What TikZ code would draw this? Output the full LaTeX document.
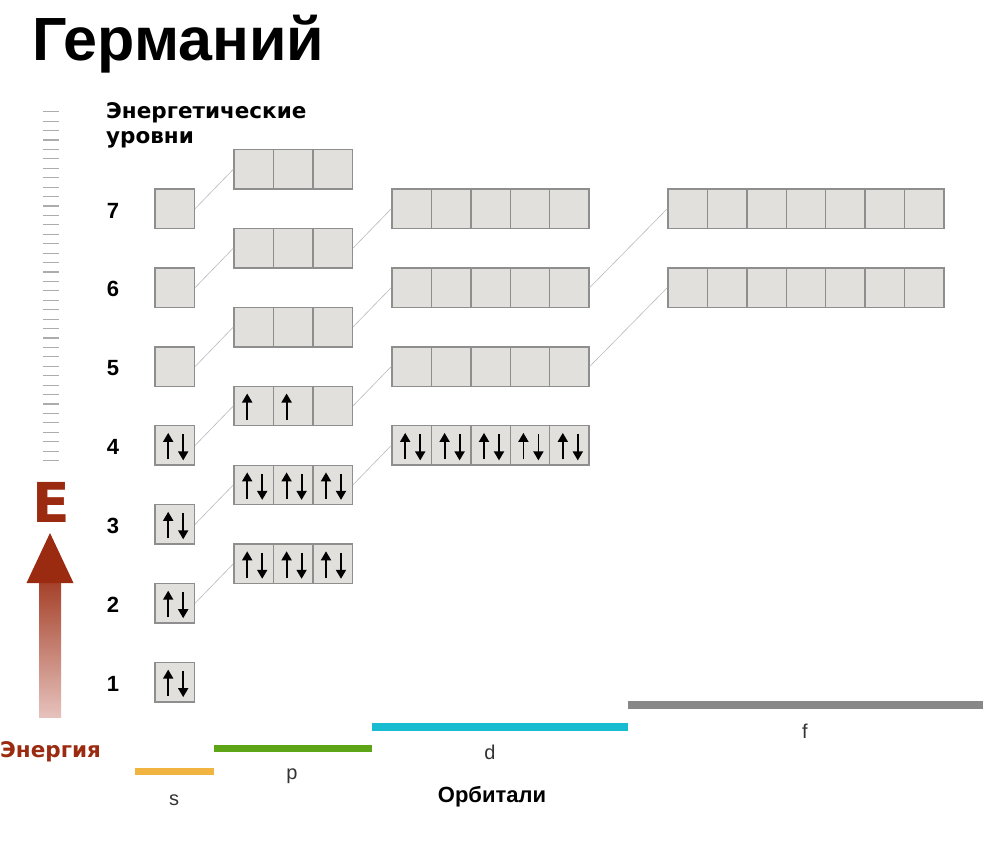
\documentclass[tikz,border=0pt]{standalone}
\usepackage{fontspec}
\setmainfont{Liberation Sans}
\newfontfamily\widebold{DejaVu Sans}[BoldFont={DejaVu Sans Bold}]
\usetikzlibrary{positioning,arrows.meta,calc}
\definecolor{cellfill}{HTML}{E2E0DC}
\definecolor{celledge}{HTML}{8E8E8E}
\definecolor{energyred}{HTML}{9A2A10}
\definecolor{energypink}{HTML}{E6C2BC}
\definecolor{sband}{HTML}{F2B441}
\definecolor{pband}{HTML}{5DA417}
\definecolor{dband}{HTML}{17BCD0}
\definecolor{fband}{HTML}{888888}
\tikzstyle{cell}  = [rectangle, draw=celledge, fill=cellfill, line width=1.4pt,
                     minimum size=39.4pt, inner sep=0pt]
\tikzstyle{spin}  = [draw, line width=1.8pt, -{Triangle[width=10pt,length=9pt]}]
\tikzstyle{link}  = [draw=gray!55, line width=0.6pt]
\tikzstyle{level} = [font=\fontsize{22}{22}\selectfont\bfseries]
\tikzstyle{orb}   = [font=\fontsize{20}{20}\selectfont, text=black!80]
\tikzstyle{band}  = [line width=7.5pt]
\newcommand{\spinup}[1]{
  \draw[spin] ([xshift=-6.5pt,yshift=-14pt]#1.center) -- ([xshift=-6.5pt,yshift=12.5pt]#1.center);
}
\newcommand{\spinpair}[1]{
  \spinup{#1}
  \draw[spin] ([xshift=8.5pt,yshift=11pt]#1.center) -- ([xshift=8.5pt,yshift=-15pt]#1.center);
}
\begin{document}
\begin{tikzpicture}[x=1pt, y=-1pt, node distance=39.4pt]
		\useasboundingbox (0,0) rectangle (999,843);

		\node[anchor=base west, inner sep=0pt, font=\fontsize{61}{61}\selectfont\bfseries] (title) at (32,61) {Германий};
		\node[anchor=base west, inner sep=0pt, align=left, font=\widebold\fontsize{21.5}{25}\selectfont\bfseries] (levels) at (106,143) {Энергетические\\уровни};

		% energy scale
		\foreach \t in {0,...,37}
			\draw[gray!65, line width=1.1pt] (43,{111.7+\t*9.43}) -- (59,{111.7+\t*9.43});
		\node[font=\widebold\fontsize{55}{55}\selectfont\bfseries, text=energyred, inner sep=0pt] (E) at (51.5,502) {E};
		\shade[top color=energyred!90, bottom color=energypink] (39,580) rectangle (61,717);
		\fill[energyred] (50,533) -- (73.5,583) -- (26.5,583) -- cycle;
		\node[font=\widebold\fontsize{21.5}{21.5}\selectfont\bfseries, text=energyred, anchor=base west, inner sep=0pt] (energy) at (0,757) {Энергия};

		% s cells and level numbers
		\foreach \n in {1,...,7}{
			\node[cell] (s\n) at (174.7,{208.7+(7-\n)*78.9}) {};
			\node[level] (lvl\n) at (113,{210.5+(7-\n)*78.9}) {\n};
		}
		% p cells
		\foreach \n in {2,...,7}{
			\node[cell] (p\n-1) at (253.7,{169.3+(7-\n)*78.9}) {};
			\foreach \k [count=\j] in {2,3}
				\node[cell, right of=p\n-\j] (p\n-\k) {};
			\draw[link] (s\n.east) -- (p\n-1.west);
		}
		% d cells
		\foreach \n in {3,...,6}{
			\node[cell] (d\n-1) at (411.7,{208.7+(6-\n)*78.9}) {};
			\foreach \k [count=\j] in {2,...,5}
				\node[cell, right of=d\n-\j] (d\n-\k) {};
			\draw[link] (p\n-3.east) -- (d\n-1.west);
		}
		% f cells
		\foreach \n in {4,5}{
			\node[cell] (f\n-1) at (687.7,{208.7+(5-\n)*78.9}) {};
			\foreach \k [count=\j] in {2,...,7}
				\node[cell, right of=f\n-\j] (f\n-\k) {};
			\draw[link] (d\n-5.east) -- (f\n-1.west);
		}

		% electrons
		\foreach \cel in {s1,s2,s3,s4,p2-1,p2-2,p2-3,p3-1,p3-2,p3-3,d3-1,d3-2,d3-3,d3-4,d3-5}{
			\spinpair{\cel}
		}
		\spinup{p4-1}
		\spinup{p4-2}

		% orbital bands
		\coordinate (s0) at (135,771.5);
		\coordinate (p0) at (214,748.5);
		\coordinate (d0) at (372,727);
		\coordinate (f0) at (628,705);
		\coordinate (fend) at (983,705);
		\draw[band, sband] (s0) -- (p0 |- s0);
		\draw[band, pband] (p0) -- (d0 |- p0);
		\draw[band, dband] (d0) -- (f0 |- d0);
		\draw[band, fband] (f0) -- (fend);
		\node[orb] (slabel) at (174,800) {s};
		\node[orb] (plabel) at (292,776) {p};
		\node[orb] (dlabel) at (490,752) {d};
		\node[orb] (flabel) at (805,731) {f};
		\node[font=\fontsize{22}{22}\selectfont\bfseries] (orbitals) at (492,797) {Орбитали};
	\end{tikzpicture}
\end{document}
